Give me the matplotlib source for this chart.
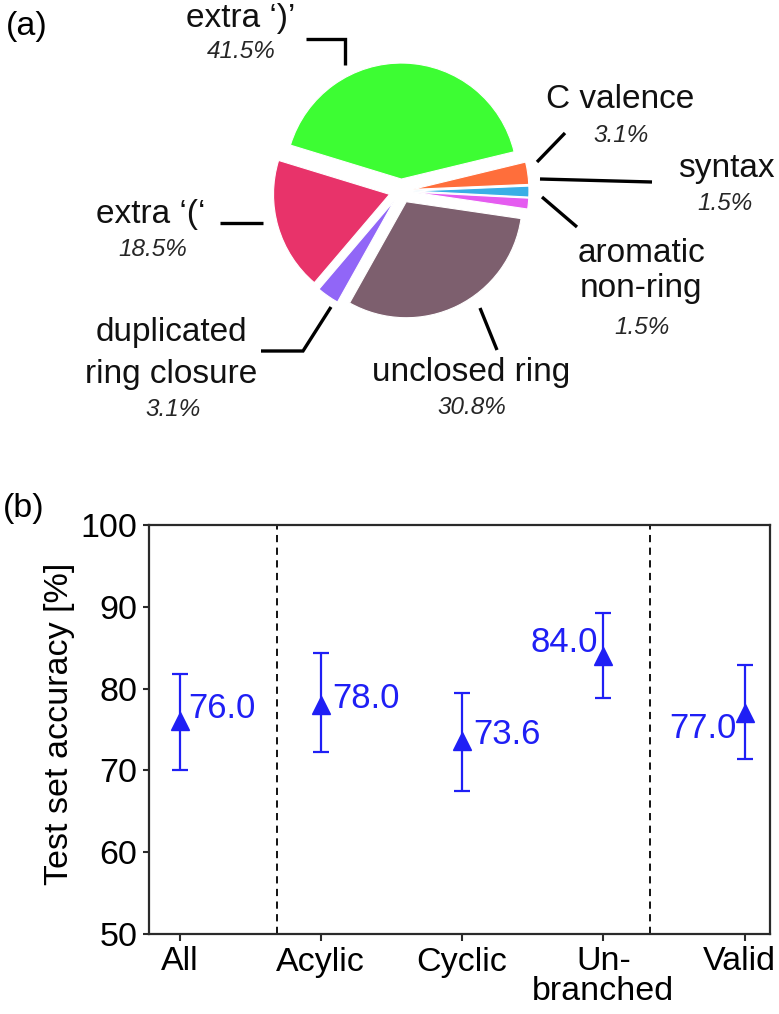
import matplotlib
matplotlib.use("Agg")
import matplotlib.pyplot as plt
from matplotlib.transforms import ScaledTranslation

plt.rcParams['font.family'] = ['Liberation Sans', 'DejaVu Sans']

# ---------------- data ----------------
pie_labels = ["extra \u2018)\u2019", "C valence", "syntax", "aromatic\nnon-ring",
              "unclosed ring", "duplicated\nring closure", "extra \u2018(\u2018"]
pie_values = [41.5, 3.1, 1.5, 1.5, 30.8, 3.1, 18.5]
pie_colors = ["#3dfd33", "#ff6e3b", "#3aaee6", "#e55cf0", "#7d5f6e", "#9166f7", "#e8336a"]

acc_categories = ["All", "Acylic", "Cyclic", "Un-\nbranched", "Valid"]
acc_values = [76.0, 78.0, 73.6, 84.0, 77.0]
acc_err_low = [6.0, 5.7, 6.1, 5.2, 5.6]
acc_err_high = [5.8, 6.3, 5.9, 5.3, 5.9]
acc_separators = [0.69, 3.33]

W, H = 779, 1014
fig = plt.figure(figsize=(W / 100, H / 100), dpi=100)

# ---------------- (a) pie, drawn in a pixel-coordinate overlay ----------------
axp = fig.add_axes([0, 0, 1, 1])
def Y(py):
    return H - py

R = 116
wedges, _ = axp.pie(pie_values, colors=pie_colors, startangle=163, counterclock=False,
                    radius=R, center=(401, Y(191)), explode=[0.103 * R] * len(pie_values),
                    wedgeprops=dict(edgecolor="white", linewidth=0.8))
axp.set_xlim(0, W)
axp.set_ylim(0, H)
axp.set_aspect("auto")
axp.set_axis_off()

name_kw = dict(fontsize=24, ha="center", va="center", color="#111111")
pct_kw = dict(fontsize=17.5, ha="center", va="center", color="#262626", style="italic")

# label layout: name line positions and percentage position, in pixels
layout = [
    ([(241, 19)], (241, 52)),
    ([(620, 99)], (621, 135)),
    ([(726, 169)], (725, 204)),
    ([(642, 253), (641, 289)], (642, 327)),
    ([(471, 372)], (472, 407)),
    ([(171, 333), (171, 375)], (173, 410)),
    ([(151, 215)], (153, 249)),
]
for lab, val, (name_pos, pct_pos) in zip(pie_labels, pie_values, layout):
    for line, (px, py) in zip(lab.split("\n"), name_pos):
        axp.text(px, Y(py), line, **name_kw)
    axp.text(pct_pos[0], Y(pct_pos[1]), f"{val:.1f}%", **pct_kw)

leaders = [
    [(306, 39), (345, 39), (345, 65)],
    [(565, 133), (537, 162)],
    [(540, 179), (652, 182)],
    [(542, 197), (577, 227)],
    [(480, 308), (497, 350)],
    [(261, 351), (303, 351), (331, 307)],
    [(220, 223), (263, 223)],
]
for pts in leaders:
    axp.plot([p[0] for p in pts], [Y(p[1]) for p in pts], color="black", lw=2.4,
             solid_capstyle="butt", solid_joinstyle="miter")

fig.text(27 / W, 1 - 26 / H, "(a)", fontsize=24.5, ha="center", va="center")
fig.text(24 / W, 1 - 509 / H, "(b)", fontsize=24.5, ha="center", va="center")

# ---------------- (b) accuracy ----------------
left, right, top, bottom = 148.5, 770, 525, 934
ax = fig.add_axes([left / W, 1 - bottom / H, (right - left) / W, (bottom - top) / H])
blue = "#1f1ff5"
x = list(range(len(acc_categories)))
ax.errorbar(x, acc_values, yerr=[acc_err_low, acc_err_high], fmt="^", color=blue,
            ms=13.5, capsize=5.5, elinewidth=1.6, capthick=1.6, ecolor=blue)
for xs in acc_separators:
    ax.axvline(xs, color="black", lw=1.3, ls=(0, (4, 3)))

offsets = [(9, 13, "left"), (11, 6, "left"), (11, 6, "left"), (-5, 13, "right"), (-8, -15, "right")]
for xi, v, (dx, dy, ha) in zip(x, acc_values, offsets):
    ax.annotate(f"{v:.1f}", (xi, v), xytext=(dx, dy), textcoords="offset pixels",
                ha=ha, va="center", fontsize=25, color=blue)

ax.set_xlim(-0.22, 4.18)
ax.set_ylim(50, 100)
ax.set_yticks([50, 60, 70, 80, 90, 100])
ax.set_xticks(x)
ax.set_xticklabels(acc_categories, linespacing=0.95)
ax.tick_params(axis="both", labelsize=24.5, direction="out", color="#2a2a2a", width=1.5)
ax.tick_params(axis="x", length=5, pad=4)
ax.tick_params(axis="y", length=4, pad=4)
# nudge the last tick label slightly left so it stays inside the canvas
last = ax.get_xticklabels()[-1]
last.set_transform(last.get_transform() + ScaledTranslation(-5 / 100, 0, fig.dpi_scale_trans))
for s in ax.spines.values():
    s.set_color("#2a2a2a")
    s.set_linewidth(1.6)
ax.set_ylabel("Test set accuracy [%]", fontsize=24.5)
ax.yaxis.set_label_coords(-0.118, 0.513)

fig.savefig("out.png", dpi=100)
